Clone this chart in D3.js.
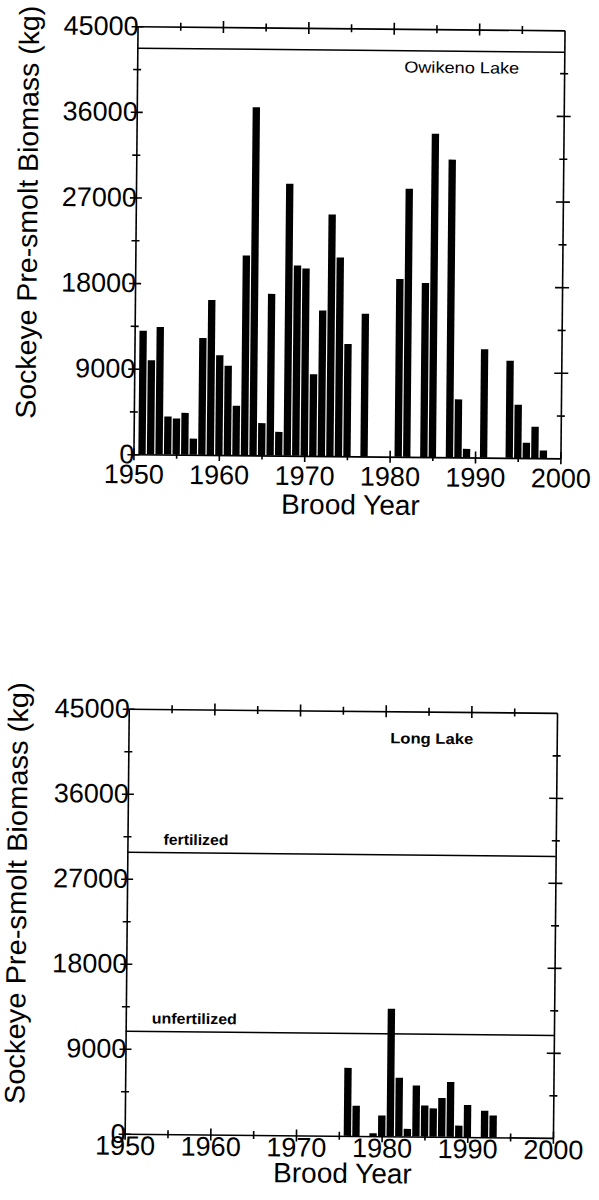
<!DOCTYPE html>
<html lang="en">
<head>
  <meta charset="UTF-8" />
  <title>Sockeye Pre-smolt Biomass</title>
  <style>
    body { margin: 0; background: #fff; }
    text { font-family: "Liberation Sans", Arial, sans-serif; fill: #000; }
    .axis path, .axis line { stroke: #000; stroke-width: 1.6px; }
    .bar { fill: #000; }
    .ref { stroke: #000; stroke-width: 1.5px; }
  </style>
</head>
<body>
  <div id="chart"></div>
  <script src="https://d3js.org/d3.v7.min.js"></script>
  <script>
    // Owikeno Lake, brood years with a bar
    const owikenoYears = [1951, 1952, 1953, 1954, 1955, 1956, 1957, 1958, 1959, 1960,
      1961, 1962, 1963, 1964, 1965, 1966, 1967, 1968, 1969, 1970, 1971, 1972, 1973,
      1974, 1975, 1977, 1981, 1982, 1984, 1985, 1987, 1988, 1989, 1991, 1994, 1995,
      1996, 1997, 1998];
    const owikenoBiomass = [13000, 9900, 13400, 4000, 3800, 4400, 1700, 12300, 16300, 10500,
      9400, 5200, 21000, 36600, 3400, 17000, 2500, 28600, 20000, 19700, 8600, 15300, 25400,
      20900, 11800, 15000, 18700, 28200, 18300, 34000, 31300, 6100, 900, 11400, 10200, 5600,
      1600, 3300, 800];
    const owikenoLine = 42700;

    // Long Lake
    const longYears = [1976, 1977, 1979, 1980, 1981, 1982, 1983, 1984, 1985, 1986, 1987,
      1988, 1989, 1990, 1992, 1993];
    const longBiomass = [7200, 3200, 300, 2200, 13500, 6200, 800, 5400, 3300, 3000, 4100,
      5800, 1200, 3400, 2800, 2300];
    const longFertilized = 29800;
    const longUnfertilized = 10850;

    const yTicks = [0, 9000, 18000, 27000, 36000, 45000];
    const yMinor = [4500, 13500, 22500, 31500, 40500];
    const xTicks = [1950, 1960, 1970, 1980, 1990, 2000];
    const xMinor = [1955, 1965, 1975, 1985, 1995];

    const svg = d3.select("#chart").append("svg")
        .attr("width", 599)
        .attr("height", 1200);

    svg.append("rect").attr("width", 599).attr("height", 1200).attr("fill", "#fff");

    // ticks cross the axis line on both sides
    function crossH(s) {
      return function(g) { g.selectAll(".tick line").attr("y1", -s).attr("y2", s); };
    }
    function crossV(s) {
      return function(g) { g.selectAll(".tick line").attr("x1", -s).attr("x2", s); };
    }

    function drawPanel(p) {
      var cx = (p.left + p.right) / 2, cy = (p.top + p.bottom) / 2;

      // the scanned figure sits slightly rotated on the page
      var g = svg.append("g")
          .attr("transform", "rotate(0.55," + cx + "," + cy + ")");

      var x = d3.scaleLinear().domain([1950, 2000]).range([p.left, p.right]);
      var y = d3.scaleLinear().domain([0, 45000]).range([p.bottom, p.top]);

      var bw = (x(1951) - x(1950)) * 0.86;

      // bars
      g.selectAll("rect.bar")
          .data(d3.zip(p.years, p.values))
        .join("rect")
          .attr("class", "bar")
          .attr("x", function(d) { return x(d[0]) - bw / 2; })
          .attr("y", function(d) { return y(d[1]); })
          .attr("width", bw)
          .attr("height", function(d) { return y(0) - y(d[1]); });

      // reference lines
      p.lines.forEach(function(l) {
        g.append("line")
            .attr("class", "ref")
            .attr("x1", x(1950)).attr("x2", x(2000))
            .attr("y1", y(l.value)).attr("y2", y(l.value));
        if (l.label) {
          g.append("text")
              .attr("x", x(1958))
              .attr("y", y(l.value) - 8)
              .attr("text-anchor", "middle")
              .attr("font-size", 15)
              .attr("font-weight", "bold")
              .attr("textLength", l.len)
              .attr("lengthAdjust", "spacingAndGlyphs")
              .text(l.label);
        }
      });

      // bottom axis with year labels
      var bx = g.append("g")
          .attr("class", "axis")
          .attr("transform", "translate(0," + p.bottom + ")")
          .call(d3.axisBottom(x).tickValues(xTicks).tickFormat(d3.format("d")).tickSize(6).tickSizeOuter(0))
          .call(crossH(6));
      bx.selectAll("text")
          .attr("y", p.xGap)
          .attr("font-size", 27)
          .attr("font-family", null);
      g.append("g")
          .attr("class", "axis")
          .attr("transform", "translate(0," + p.bottom + ")")
          .call(d3.axisBottom(x).tickValues(xMinor).tickFormat("").tickSize(4).tickSizeOuter(0))
          .call(crossH(4))
          .call(function(a) { a.select(".domain").remove(); });

      // top axis
      g.append("g")
          .attr("class", "axis")
          .attr("transform", "translate(0," + p.top + ")")
          .call(d3.axisTop(x).tickValues(xTicks.slice(1, -1)).tickFormat("").tickSize(6).tickSizeOuter(0))
          .call(crossH(6));
      g.append("g")
          .attr("class", "axis")
          .attr("transform", "translate(0," + p.top + ")")
          .call(d3.axisTop(x).tickValues(xMinor).tickFormat("").tickSize(4).tickSizeOuter(0))
          .call(crossH(4))
          .call(function(a) { a.select(".domain").remove(); });

      // left axis with biomass labels
      var ly = g.append("g")
          .attr("class", "axis")
          .attr("transform", "translate(" + p.left + ",0)")
          .call(d3.axisLeft(y).tickValues(yTicks).tickFormat(d3.format("d")).tickSize(6).tickSizeOuter(0))
          .call(crossV(6));
      ly.selectAll("text")
          .attr("x", 1)
          .attr("font-size", 27)
          .attr("font-family", null);
      g.append("g")
          .attr("class", "axis")
          .attr("transform", "translate(" + p.left + ",0)")
          .call(d3.axisLeft(y).tickValues(yMinor).tickFormat("").tickSize(4).tickSizeOuter(0))
          .call(crossV(4))
          .call(function(a) { a.select(".domain").remove(); });

      // right axis
      g.append("g")
          .attr("class", "axis")
          .attr("transform", "translate(" + p.right + ",0)")
          .call(d3.axisRight(y).tickValues(yTicks.slice(1, -1)).tickFormat("").tickSize(7).tickSizeOuter(0))
          .call(crossV(7));
      g.append("g")
          .attr("class", "axis")
          .attr("transform", "translate(" + p.right + ",0)")
          .call(d3.axisRight(y).tickValues(yMinor).tickFormat("").tickSize(4).tickSizeOuter(0))
          .call(crossV(4))
          .call(function(a) { a.select(".domain").remove(); });

      // axis titles
      g.append("text")
          .attr("x", cx + 4)
          .attr("y", p.bottom + p.titleGap)
          .attr("text-anchor", "middle")
          .attr("font-size", 28)
          .text("Brood Year");

      g.append("text")
          .attr("transform", "translate(" + p.ylabelX + "," + (cy - 27) + ") rotate(-90)")
          .attr("text-anchor", "middle")
          .attr("font-size", 28)
          .attr("textLength", p.ylabelLen)
          .attr("lengthAdjust", "spacingAndGlyphs")
          .text("Sockeye Pre-smolt Biomass (kg)");

      // lake name
      g.append("text")
          .attr("x", x(p.name.year))
          .attr("y", y(p.name.value))
          .attr("text-anchor", "middle")
          .attr("font-size", p.name.size)
          .attr("font-weight", p.name.weight)
          .attr("textLength", p.name.len)
          .attr("lengthAdjust", "spacingAndGlyphs")
          .text(p.name.text);
    }

    drawPanel({
      left: 135.5, right: 562.5, top: 28.3, bottom: 456.3,
      xGap: 10, titleGap: 58, ylabelX: 37, ylabelLen: 413,
      years: owikenoYears, values: owikenoBiomass,
      lines: [{ value: owikenoLine }],
      name: { text: "Owikeno Lake", year: 1988, value: 40400, size: 16, weight: "normal", len: 115 }
    });

    drawPanel({
      left: 126.7, right: 555, top: 710.8, bottom: 1135.8,
      xGap: 2, titleGap: 47, ylabelX: 26, ylabelLen: 422,
      years: longYears, values: longBiomass,
      lines: [
        { value: longFertilized, label: "fertilized", len: 65 },
        { value: longUnfertilized, label: "unfertilized", len: 85 }
      ],
      name: { text: "Long Lake", year: 1985.4, value: 41600, size: 15, weight: "bold", len: 83 }
    });
  </script>
</body>
</html>
